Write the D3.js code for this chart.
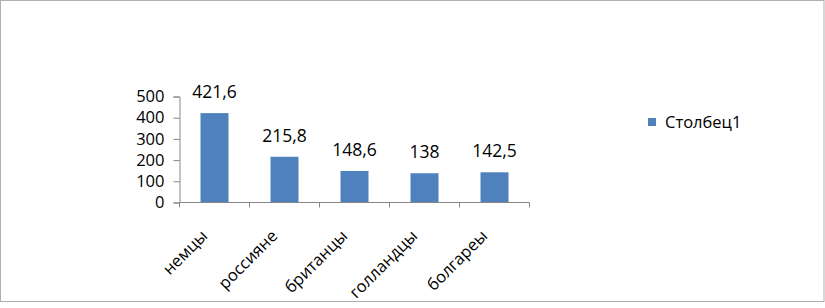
<!DOCTYPE html>
<html>
<head>
<meta charset="utf-8">
<script src="https://cdn.jsdelivr.net/npm/d3@7/dist/d3.min.js"></script>
<style>
    body { margin: 0; background: #fff; }
    text { font-family: "Open Sans", sans-serif; fill: #000; }
</style>
</head>
<body>
<svg width="825" height="308"></svg>
<script type="text/javascript">
    var categories = ["немцы", "россияне", "британцы", "голландцы", "болгареы"];
    var values = [421.6, 215.8, 148.6, 138, 142.5];
    var labels = ["421,6", "215,8", "148,6", "138", "142,5"];
    var yTicks = [0, 100, 200, 300, 400, 500];
    var seriesName = "Столбец1";

    var svg = d3.select("svg");
    var barColor = "#4f81bd";
    var axisColor = "#868686";

    // outer frame
    svg.append("rect")
        .attr("x", 0.5).attr("y", 0.5)
        .attr("width", 823.5).attr("height", 301)
        .attr("fill", "none")
        .attr("stroke", "#b0b0b0");

    svg.append("clipPath").attr("id", "frame")
        .append("rect").attr("x", 1).attr("y", 1).attr("width", 822).attr("height", 300);

    var g = svg.append("g").attr("clip-path", "url(#frame)");

    var x = d3.scaleBand()
        .domain(categories)
        .range([179.5, 529.5])
        .paddingInner(0.6)
        .paddingOuter(0.3);

    var y = d3.scaleLinear()
        .domain([0, 500])
        .range([202.5, 96.5]);

    // y axis
    var yAxis = g.append("g")
        .attr("transform", "translate(179.5,0)")
        .call(d3.axisLeft(y).tickValues(yTicks).tickSize(6).tickPadding(9));
    yAxis.select(".domain").attr("stroke", axisColor);
    yAxis.selectAll(".tick line").attr("stroke", axisColor);
    yAxis.selectAll(".tick text")
        .style("font-size", "16.5px")
        .style("font-family", "Open Sans, sans-serif")
        .attr("fill", "#000");

    // bars
    g.selectAll("rect.bar")
        .data(values)
        .enter()
        .append("rect")
        .attr("class", "bar")
        .attr("x", function (d, i) { return x(categories[i]); })
        .attr("y", function (d) { return y(d); })
        .attr("width", x.bandwidth())
        .attr("height", function (d) { return y(0) - y(d); })
        .attr("fill", barColor);

    // x axis with ticks at category boundaries
    var edges = categories.map(function (c) { return x(c) - x.step() * x.paddingInner() / 2; });
    edges.push(529.5);
    g.append("line")
        .attr("x1", 179.5).attr("x2", 529.5)
        .attr("y1", y(0)).attr("y2", y(0))
        .attr("stroke", axisColor);
    g.selectAll("line.xtick")
        .data(edges)
        .enter()
        .append("line")
        .attr("class", "xtick")
        .attr("x1", function (d) { return d; })
        .attr("x2", function (d) { return d; })
        .attr("y1", y(0)).attr("y2", y(0) + 5)
        .attr("stroke", axisColor);

    // category labels, rotated
    g.selectAll("text.cat")
        .data(categories)
        .enter()
        .append("text")
        .attr("class", "cat")
        .attr("text-anchor", "end")
        .style("font-size", "16.5px")
        .attr("transform", function (d) {
            return "translate(" + (x(d) + x.bandwidth() / 2 - 6) + "," + 237 + ") rotate(-45)";
        })
        .text(function (d) { return d; });

    // value labels
    g.selectAll("text.val")
        .data(values)
        .enter()
        .append("text")
        .attr("class", "val")
        .attr("text-anchor", "middle")
        .style("font-size", "17.5px")
        .attr("x", function (d, i) { return x(categories[i]) + x.bandwidth() / 2; })
        .attr("y", function (d) { return y(d) - 15; })
        .text(function (d, i) { return labels[i]; });

    // legend
    var legend = g.append("g").attr("transform", "translate(648,118)");
    legend.append("rect")
        .attr("width", 8).attr("height", 8)
        .attr("fill", barColor);
    legend.append("text")
        .attr("x", 17).attr("y", 4)
        .attr("dy", "0.35em")
        .style("font-size", "16.5px")
        .text(seriesName);
</script>
</body>
</html>
